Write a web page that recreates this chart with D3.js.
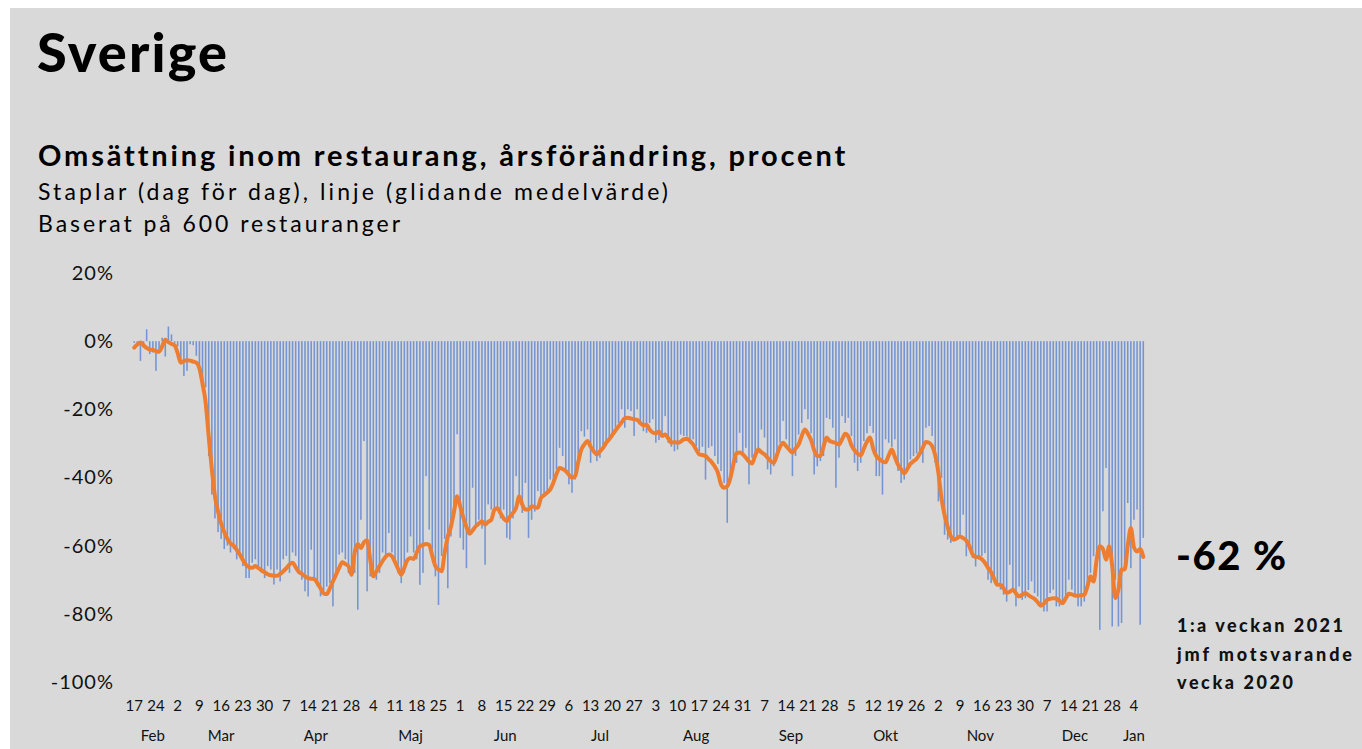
<!DOCTYPE html>
<html>
<head>
<meta charset="utf-8">
<script src="https://cdn.jsdelivr.net/npm/d3@7"></script>
<style>
  body { margin: 0; background: #fff; }
  svg { display: block; font-family: Lato, "Noto Sans", sans-serif; }
</style>
</head>
<body>
<div id="chart"></div>
<script>
// weekly tick labels (every 7th day, starting 17 Feb)
const tickLabels = ["17","24","2","9","16","23","30","7","14","21","28","4","11","18","25",
  "1","8","15","22","29","6","13","20","27","3","10","17","24","31","7","14","21","28",
  "5","12","19","26","2","9","16","23","30","7","14","21","28","4"];
const monthLabels = ["Feb","Mar","Apr","Maj","Jun","Jul","Aug","Sep","Okt","Nov","Dec","Jan"];
const firstDay = new Date(2020, 1, 17);
const yTicks = [20, 0, -20, -40, -60, -80, -100];

// day-by-day change, percent
const dailyValues = [
  -0.5, -1.5, -5.8, -2.0, 3.5, -3.8, -3.3, -8.7, -2.5, 1.0,
  -4.5, 4.3, 2.0, -0.5, -1.5, -6.5, -10.2, -8.7, -0.9, -1.2,
  -4.3, -8.7, -11.2, -13.5, -33.7, -45.0, -52.0, -56.0, -58.0, -61.0,
  -60.0, -62.0, -61.0, -64.0, -63.0, -66.0, -69.5, -69.5, -65.0, -64.0,
  -66.0, -68.0, -69.5, -66.0, -67.0, -71.4, -67.0, -70.5, -64.0, -63.0,
  -68.0, -62.0, -63.0, -68.0, -70.0, -73.4, -74.9, -61.2, -70.0, -72.0,
  -74.9, -74.0, -72.0, -71.0, -77.8, -68.0, -62.6, -62.0, -64.0, -68.0,
  -69.0, -68.0, -78.8, -52.4, -29.3, -73.4, -69.0, -68.0, -70.0, -68.0,
  -62.0, -63.0, -56.3, -62.0, -65.6, -68.0, -71.0, -68.0, -62.0, -57.3,
  -62.0, -64.0, -71.5, -68.0, -39.6, -55.3, -62.0, -69.0, -77.4, -63.0,
  -58.0, -72.5, -57.3, -48.0, -27.3, -57.7, -61.2, -66.6, -56.0, -43.0,
  -54.0, -52.4, -55.0, -65.6, -47.9, -49.4, -50.0, -48.9, -52.0, -49.4,
  -57.7, -58.2, -52.0, -39.6, -46.0, -50.4, -41.6, -57.7, -52.4, -50.0,
  -44.0, -47.0, -45.5, -45.0, -40.6, -42.0, -37.6, -31.3, -33.7, -38.0,
  -42.0, -44.5, -40.6, -35.0, -26.4, -28.0, -25.9, -35.7, -33.0, -35.2,
  -34.2, -32.0, -30.8, -29.0, -27.8, -25.4, -24.0, -20.0, -25.4, -20.0,
  -20.5, -27.8, -20.0, -24.0, -26.4, -26.9, -24.0, -22.9, -29.8, -29.0,
  -27.0, -22.0, -29.8, -31.0, -32.3, -31.8, -27.4, -27.8, -28.0, -29.5,
  -28.8, -30.8, -32.3, -31.0, -40.6, -31.3, -30.8, -33.7, -36.0, -38.1,
  -41.6, -53.3, -39.6, -38.0, -35.7, -26.9, -33.7, -31.3, -42.0, -34.2,
  -33.0, -32.7, -25.9, -28.3, -37.6, -39.1, -36.7, -33.0, -29.8, -23.4,
  -28.8, -31.0, -39.6, -33.7, -27.4, -24.0, -20.0, -22.9, -27.0, -39.1,
  -36.7, -35.2, -33.7, -22.5, -22.9, -25.4, -43.0, -34.2, -22.0, -24.0,
  -22.5, -27.8, -35.7, -38.1, -35.7, -29.3, -27.0, -24.9, -26.9, -39.6,
  -39.6, -45.0, -28.8, -29.8, -31.0, -28.8, -38.1, -41.6, -40.6, -37.0,
  -34.7, -33.7, -33.0, -32.3, -35.7, -25.4, -24.9, -27.8, -35.7, -47.0,
  -40.1, -56.8, -58.2, -59.2, -58.7, -57.3, -56.8, -50.9, -63.1, -61.2,
  -63.6, -66.1, -64.1, -63.0, -62.2, -70.0, -71.0, -70.0, -71.0, -72.9,
  -74.4, -76.4, -65.6, -72.9, -77.8, -72.0, -75.9, -75.4, -73.0, -70.5,
  -73.9, -74.9, -77.8, -79.3, -79.3, -73.9, -72.9, -77.8, -77.8, -76.5,
  -75.9, -70.0, -72.9, -75.0, -77.8, -77.8, -76.4, -72.0, -68.0, -63.1,
  -63.6, -84.7, -49.9, -37.2, -62.2, -83.7, -70.0, -83.7, -82.7, -66.6,
  -47.5, -66.6, -52.4, -49.4, -83.2, -57.7
];

// moving average, percent
const averageValues = [
  -1.9, -1.0, -0.4, -1.2, -2.0, -2.5, -2.6, -2.9, -3.1, -1.5,
  0.4, -0.3, -0.8, -1.2, -3.5, -6.3, -5.8, -5.6, -5.7, -6.0,
  -6.3, -8.0, -12.5, -18.0, -28.0, -37.6, -45.5, -50.0, -53.5, -56.0,
  -58.0, -59.3, -60.0, -61.2, -62.6, -64.2, -65.6, -66.3, -66.5, -66.0,
  -66.6, -67.2, -67.8, -68.4, -68.7, -68.8, -68.8, -68.3, -67.5, -66.6,
  -65.5, -65.0, -66.3, -67.7, -68.3, -69.0, -69.5, -69.7, -69.8, -71.0,
  -72.5, -74.0, -74.2, -72.5, -70.5, -68.5, -66.5, -64.9, -65.4, -66.0,
  -68.5, -62.0, -59.5, -60.7, -59.0, -58.5, -64.0, -69.0, -67.5, -66.0,
  -64.5, -63.2, -62.6, -63.1, -64.8, -66.8, -68.5, -66.5, -64.2, -63.6,
  -63.9, -62.0, -60.2, -59.8, -59.5, -59.8, -63.0, -66.0, -67.0, -67.5,
  -62.0, -57.3, -54.5, -50.0, -45.5, -48.5, -51.8, -54.5, -56.5, -55.5,
  -54.3, -53.5, -52.8, -53.8, -53.0, -52.4, -49.5, -49.0, -50.5, -52.0,
  -52.8, -51.5, -50.4, -48.9, -45.5, -48.0, -49.4, -49.4, -48.4, -48.7,
  -48.9, -46.0, -45.2, -44.4, -43.5, -41.5, -39.0, -37.2, -37.5, -38.1,
  -39.2, -40.1, -39.6, -35.5, -31.8, -30.3, -29.3, -31.0, -32.3, -33.2,
  -32.3, -31.3, -29.8, -28.8, -27.5, -26.2, -25.0, -23.8, -22.6, -22.5,
  -22.7, -22.9, -23.1, -24.0, -24.7, -24.5, -25.9, -26.8, -27.0, -26.5,
  -27.8, -27.4, -28.5, -29.8, -29.6, -29.8, -29.5, -28.8, -28.6, -29.3,
  -30.3, -31.8, -33.2, -33.4, -33.7, -34.6, -35.5, -36.8, -38.6, -42.0,
  -43.0, -42.6, -40.2, -36.0, -32.8, -32.7, -33.2, -34.2, -35.3, -35.9,
  -33.5, -31.8, -32.6, -33.2, -34.2, -35.2, -35.7, -33.4, -31.0, -29.8,
  -30.8, -31.8, -32.7, -31.5, -30.3, -27.8, -25.9, -27.2, -29.0, -32.0,
  -33.7, -33.7, -31.0, -28.3, -29.3, -29.6, -29.9, -30.3, -28.8, -27.2,
  -28.0, -30.5, -32.0, -33.0, -33.5, -31.5, -29.5, -28.3, -31.5, -33.7,
  -34.6, -35.3, -35.5, -33.5, -31.8, -34.0, -36.2, -37.6, -38.8, -37.5,
  -36.0, -35.2, -34.5, -33.0, -31.2, -29.6, -29.8, -30.8, -33.5, -38.5,
  -46.0, -51.0, -54.5, -57.2, -58.2, -57.8, -57.3, -57.8, -58.5, -60.2,
  -62.5, -63.3, -63.3, -64.0, -65.0, -66.5, -67.8, -69.8, -71.5, -71.5,
  -72.5, -73.8, -73.5, -72.9, -74.0, -74.9, -74.4, -73.9, -74.5, -75.1,
  -75.6, -76.6, -77.6, -77.0, -75.9, -75.6, -75.4, -75.5, -76.2, -76.9,
  -75.5, -74.1, -74.3, -74.6, -74.7, -74.5, -74.4, -72.0, -69.0, -70.5,
  -64.0, -60.2, -61.0, -64.1, -60.2, -66.0, -75.4, -72.9, -67.0, -67.0,
  -60.0, -54.8, -60.5, -61.7, -61.0, -63.3
];

const width = 1362, height = 749;
const days = d3.range(dailyValues.length);

const svg = d3.select("#chart").append("svg")
    .attr("width", width)
    .attr("height", height);

svg.append("rect")
    .attr("x", 10).attr("y", 8)
    .attr("width", width - 10).attr("height", height - 8)
    .attr("fill", "#d9d9d9");

// widen text with letter spacing so it covers the width seen in the picture
function spreadTo(sel, w) {
    const len = sel.node().getComputedTextLength();
    const n = sel.text().length;
    sel.attr("letter-spacing", Math.max(0, (w - len) / (n - 1)));
}

const title = svg.append("text")
    .attr("x", 37).attr("y", 72)
    .attr("font-size", 54).attr("font-weight", 900)
    .text("Sverige");
spreadTo(title, 190);

const sub = svg.append("text")
    .attr("x", 38).attr("y", 166)
    .attr("font-size", 29).attr("font-weight", 700)
    .text("Omsättning inom restaurang, årsförändring, procent");
spreadTo(sub, 806);

const sub2 = svg.append("text")
    .attr("x", 38).attr("y", 200)
    .attr("font-size", 23)
    .text("Staplar (dag för dag), linje (glidande medelvärde)");
spreadTo(sub2, 630);
const sub3 = svg.append("text")
    .attr("x", 38).attr("y", 232)
    .attr("font-size", 23)
    .text("Baserat på 600 restauranger");
spreadTo(sub3, 362);

// scales
const x = d3.scaleBand()
    .domain(days)
    .range([133.45, 133.45 + 3.1 * days.length])
    .paddingInner(0.5);

const y = d3.scaleLinear()
    .domain([-100, 20])
    .range([682, 273]);

const cx = i => x(i) + x.bandwidth() / 2;

// y axis (labels only)
const yAxis = svg.append("g")
    .attr("transform", "translate(114,0)")
    .call(d3.axisLeft(y).tickValues(yTicks).tickSize(0).tickPadding(0)
        .tickFormat(d => d + "%"));
yAxis.select(".domain").remove();
yAxis.selectAll("text")
    .attr("font-family", "Lato, sans-serif")
    .attr("font-size", 20)
    .attr("letter-spacing", 1)
    .attr("fill", "#111");

// bars
svg.append("g")
    .attr("fill", "#5a83d0")
    .attr("fill-opacity", 0.8)
    .selectAll("rect")
    .data(days)
    .join("rect")
    .attr("x", i => x(i))
    .attr("width", x.bandwidth())
    .attr("y", i => y(Math.max(0, dailyValues[i])))
    .attr("height", i => Math.abs(y(dailyValues[i]) - y(0)));

// moving average line
svg.append("path")
    .datum(days)
    .attr("fill", "none")
    .attr("stroke", "#ed7d31")
    .attr("stroke-width", 4)
    .attr("stroke-linejoin", "round")
    .attr("stroke-linecap", "round")
    .attr("d", d3.line()
        .x(i => cx(i))
        .y(i => y(averageValues[i]))
        .curve(d3.curveMonotoneX));

// x axis tick labels (weekly)
svg.append("g")
    .attr("font-size", 15)
    .attr("fill", "#111")
    .attr("text-anchor", "middle")
    .selectAll("text")
    .data(tickLabels)
    .join("text")
    .attr("x", (d, k) => cx(k * 7))
    .attr("y", 711)
    .text(d => d);

// month labels centred over the days of each month
const dayDate = i => d3.timeDay.offset(firstDay, i);
const monthGroups = d3.groups(days, i => d3.timeMonth.floor(dayDate(i)).getTime());
svg.append("g")
    .attr("font-size", 15)
    .attr("fill", "#111")
    .attr("text-anchor", "middle")
    .selectAll("text")
    .data(monthGroups)
    .join("text")
    .attr("x", g => (cx(g[1][0]) + cx(g[1][g[1].length - 1])) / 2)
    .attr("y", 741)
    .text((g, k) => monthLabels[k]);

// annotation on the right
const big = svg.append("text")
    .attr("x", 1176).attr("y", 570)
    .attr("font-size", 40).attr("font-weight", 900)
    .text("-62 %");
spreadTo(big, 110);

const noteLines = ["1:a veckan 2021", "jmf motsvarande", "vecka 2020"];
const noteWidths = [166, 175, 116];
const note = svg.append("g").attr("font-weight", 900).attr("fill", "#111");
noteLines.forEach((t, k) => {
    const line = note.append("text")
        .attr("x", 1177).attr("y", 632 + k * 28.5)
        .attr("font-size", 18)
        .text(t);
    spreadTo(line, noteWidths[k]);
});
</script>
</body>
</html>
